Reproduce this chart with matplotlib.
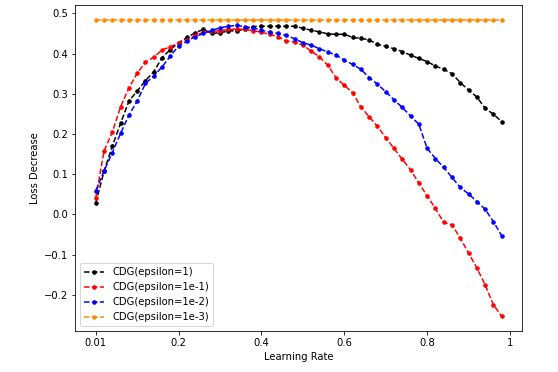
import numpy as np
import matplotlib
matplotlib.use('Agg')
import matplotlib.pyplot as plt

# learning rates: 0.01, then 0.02 .. 0.98 (plotted at evenly spaced positions)
lr = [0.01] + [round(0.02 * k, 2) for k in range(1, 50)]

eps1 = [0.028, 0.108, 0.170, 0.227, 0.282, 0.307, 0.333, 0.355, 0.390, 0.410,
        0.427, 0.440, 0.452, 0.460, 0.450, 0.452, 0.456, 0.457, 0.460, 0.467,
        0.468, 0.468, 0.468, 0.468, 0.468, 0.463, 0.458, 0.454, 0.449, 0.448,
        0.448, 0.440, 0.438, 0.434, 0.423, 0.418, 0.412, 0.405, 0.396, 0.388,
        0.380, 0.369, 0.361, 0.350, 0.328, 0.309, 0.292, 0.264, 0.249, 0.231]

eps01 = [0.042, 0.158, 0.205, 0.268, 0.315, 0.351, 0.379, 0.391, 0.409, 0.417,
         0.427, 0.434, 0.445, 0.453, 0.455, 0.457, 0.460, 0.461, 0.460, 0.457,
         0.453, 0.448, 0.442, 0.431, 0.429, 0.421, 0.406, 0.392, 0.371, 0.340,
         0.321, 0.303, 0.267, 0.243, 0.219, 0.191, 0.164, 0.137, 0.111, 0.078,
         0.046, 0.015, -0.020, -0.026, -0.059, -0.096, -0.133, -0.175, -0.225, -0.253]

eps001 = [0.059, 0.108, 0.154, 0.202, 0.247, 0.282, 0.326, 0.344, 0.367, 0.394,
          0.419, 0.431, 0.442, 0.450, 0.458, 0.464, 0.468, 0.470, 0.467, 0.464,
          0.458, 0.453, 0.450, 0.445, 0.437, 0.427, 0.421, 0.412, 0.404, 0.396,
          0.384, 0.373, 0.361, 0.340, 0.324, 0.305, 0.285, 0.266, 0.245, 0.224,
          0.164, 0.139, 0.117, 0.092, 0.067, 0.051, 0.032, 0.013, -0.018, -0.053]

eps0001 = [0.484, 0.484, 0.484, 0.484, 0.484, 0.484, 0.484, 0.484, 0.484, 0.484,
           0.484, 0.484, 0.484, 0.484, 0.484, 0.484, 0.484, 0.484, 0.484, 0.484,
           0.484, 0.484, 0.484, 0.484, 0.484, 0.484, 0.484, 0.484, 0.484, 0.484,
           0.484, 0.484, 0.484, 0.484, 0.484, 0.484, 0.484, 0.484, 0.484, 0.484,
           0.484, 0.484, 0.484, 0.484, 0.484, 0.484, 0.484, 0.484, 0.484, 0.484]

tick_pos = [0, 10, 20, 30, 40, 50]
tick_labels = ['0.01', '0.2', '0.4', '0.6', '0.8', '1']

fig = plt.figure(figsize=(558 / 72, 372 / 72), dpi=72)
ax = fig.add_axes([0.1353, 0.1102, 0.8002, 0.8764])

idx = np.arange(len(lr))
ax.plot(idx, eps1, '--', color='black', marker='o', markersize=3.5, label='CDG(epsilon=1)')
ax.plot(idx, eps01, '--', color='red', marker='o', markersize=3.5, label='CDG(epsilon=1e-1)')
ax.plot(idx, eps001, '--', color='blue', marker='o', markersize=3.5, label='CDG(epsilon=1e-2)')
ax.plot(idx, eps0001, '--', color='darkorange', marker='o', markersize=3.5, label='CDG(epsilon=1e-3)')

ax.set_xticks(tick_pos)
ax.set_xticklabels(tick_labels)
ax.set_xlabel('Learning Rate', fontsize=10)
ax.set_ylabel('Loss Decrease', fontsize=10)
ax.tick_params(labelsize=10)
ax.legend(loc='lower left', fontsize=10)

fig.savefig('out.png', dpi=72)
